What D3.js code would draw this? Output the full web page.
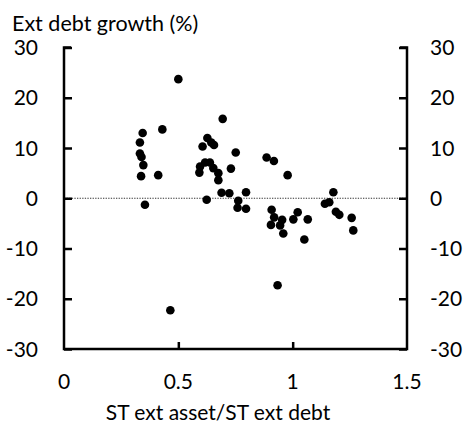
<!DOCTYPE html>
<html>
<head>
<meta charset="utf-8">
<script src="https://cdn.jsdelivr.net/npm/d3@7"></script>
<style>
  html, body { margin: 0; padding: 0; background: #fff; }
  svg { display: block; }
  text { font-family: Lato, "Open Sans", sans-serif; fill: #000; }
</style>
</head>
<body>
<svg id="chart" width="464" height="426"></svg>
<script>
// Short-term external assets / short-term external debt (x) vs external debt growth, % (y)
const ratio = [
  0.500, 0.694, 0.344, 0.430, 0.332, 0.332, 0.339, 0.347, 0.337, 0.412,
  0.354, 0.465, 0.627, 0.606, 0.644, 0.656, 0.751, 0.886, 0.918, 0.978,
  0.730, 0.595, 0.592, 0.617, 0.638, 0.653, 0.675, 0.675, 0.689, 0.723,
  0.796, 0.624, 0.762, 0.759, 0.796, 0.908, 0.919, 0.954, 0.905, 0.945,
  0.959, 1.003, 1.022, 1.066, 1.051, 0.934, 1.178, 1.141, 1.160, 1.189,
  1.204, 1.258, 1.265
];
const debtGrowth = [
  23.7, 15.8, 13.0, 13.7, 11.1, 8.9, 8.2, 6.6, 4.4, 4.6,
  -1.3, -22.3, 12.0, 10.3, 11.1, 10.6, 9.1, 8.1, 7.4, 4.6,
  5.9, 6.3, 5.1, 7.1, 7.1, 6.0, 5.0, 3.6, 1.1, 1.0,
  1.2, -0.3, -0.5, -1.9, -2.1, -2.3, -3.8, -4.3, -5.3, -5.4,
  -7.0, -4.2, -2.8, -4.2, -8.2, -17.3, 1.2, -1.1, -0.8, -2.7,
  -3.3, -3.9, -6.4
];
const xTicks = [0, 0.5, 1, 1.5];
const yTicks = [-30, -20, -10, 0, 10, 20, 30];
const yTitle = "Ext debt growth (%)";
const xTitle = "ST ext asset/ST ext debt";

const svg = d3.select("#chart");
const plot = { left: 64, right: 407, top: 47.5, bottom: 349 };

const x = d3.scaleLinear().domain([0, 1.5]).range([plot.left, plot.right]);
const y = d3.scaleLinear().domain([-30, 30]).range([plot.bottom, plot.top]);

const fontSize = 21;

// Zero reference line
svg.append("line")
  .attr("x1", x(0)).attr("x2", x(1.5))
  .attr("y1", y(0)).attr("y2", y(0))
  .attr("stroke", "#333").attr("stroke-width", 1.2)
  .attr("stroke-dasharray", "1.3,1.3");

// Axes: ticks point inward, labels placed separately
function styleAxis(g) {
  g.select(".domain").remove();
  g.selectAll(".tick line").attr("stroke", "#000").attr("stroke-width", 2.5);
  g.selectAll(".tick text").remove();
}

svg.append("g")
  .attr("transform", `translate(${plot.left},0)`)
  .call(d3.axisRight(y).tickValues(yTicks).tickSize(8))
  .call(styleAxis);

svg.append("g")
  .attr("transform", `translate(${plot.right},0)`)
  .call(d3.axisLeft(y).tickValues(yTicks).tickSize(8))
  .call(styleAxis);

svg.append("g")
  .attr("transform", `translate(0,${plot.bottom})`)
  .call(d3.axisTop(x).tickValues(xTicks.slice(1, -1)).tickSize(7))
  .call(styleAxis);

// Frame: left, bottom and right axis lines
svg.append("path")
  .attr("d", `M${plot.left + 7},${plot.top} H${plot.left} V${plot.bottom} H${plot.right} V${plot.top} H${plot.right - 7}`)
  .attr("fill", "none").attr("stroke", "#000").attr("stroke-width", 2.5)
  .attr("stroke-linejoin", "miter");

// Tick labels
svg.append("g").selectAll("text").data(yTicks).join("text")
  .attr("x", 38).attr("y", d => y(d)).attr("dy", "0.36em")
  .attr("text-anchor", "end").attr("font-size", fontSize)
  .text(d => d);

svg.append("g").selectAll("text").data(yTicks).join("text")
  .attr("x", 430).attr("y", d => y(d)).attr("dy", "0.36em")
  .attr("text-anchor", "start").attr("font-size", fontSize)
  .text(d => d);

svg.append("g").selectAll("text").data(xTicks).join("text")
  .attr("x", d => x(d)).attr("y", 389)
  .attr("text-anchor", "middle").attr("font-size", fontSize)
  .text(d => d);

// Titles
svg.append("text").attr("x", 12).attr("y", 31)
  .attr("font-size", fontSize + 0.5).text(yTitle);
svg.append("text").attr("x", 218).attr("y", 420)
  .attr("text-anchor", "middle").attr("font-size", fontSize).text(xTitle);

// Points
const points = ratio.map((r, i) => ({ r, g: debtGrowth[i] }));
svg.append("g").selectAll("circle").data(points).join("circle")
  .attr("cx", d => x(d.r)).attr("cy", d => y(d.g)).attr("r", 4.3)
  .attr("fill", "#000");
</script>
</body>
</html>
